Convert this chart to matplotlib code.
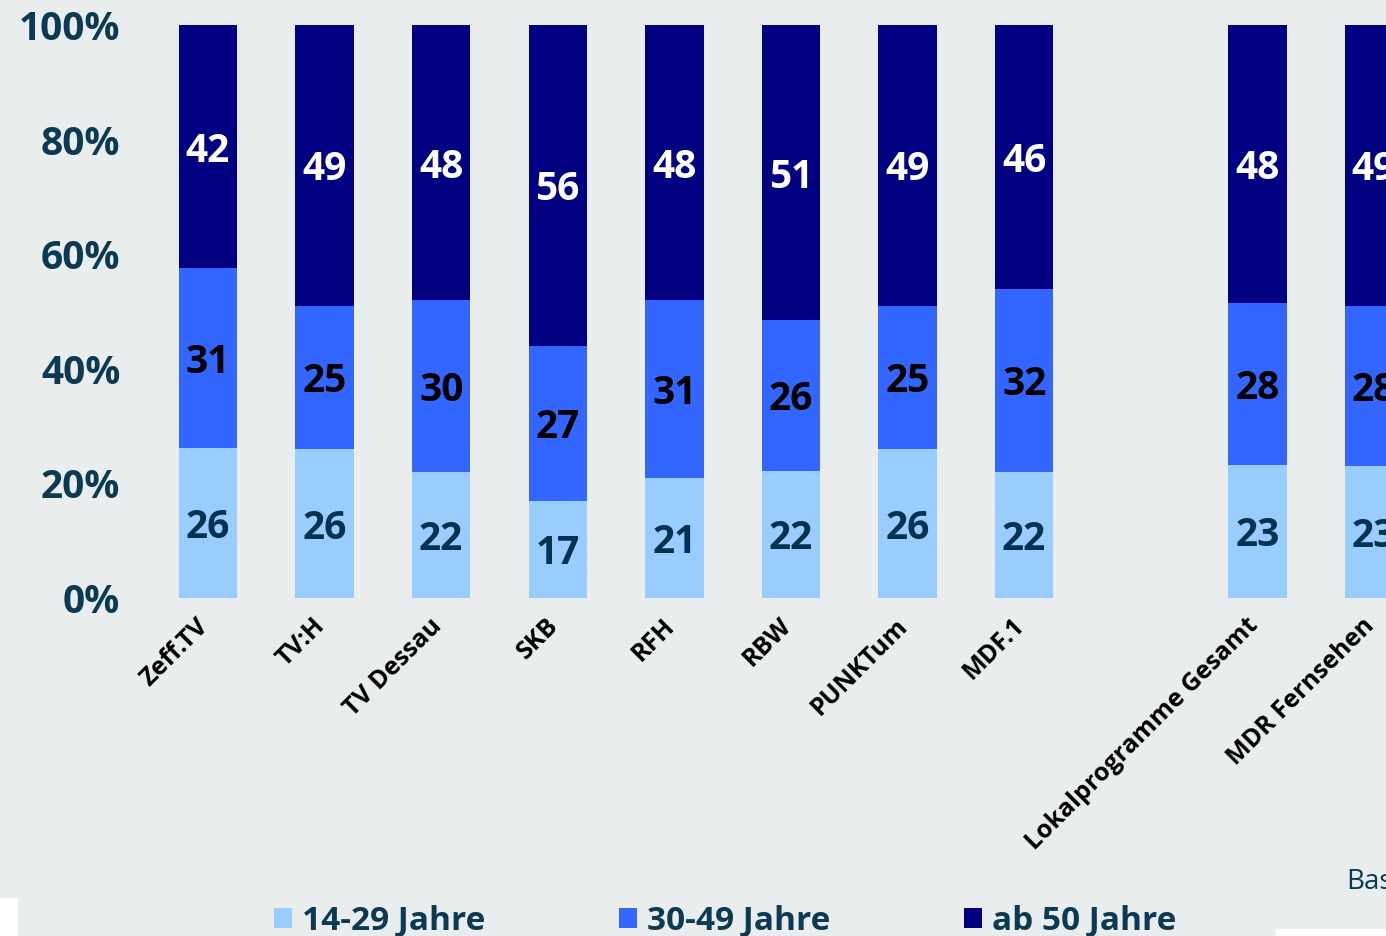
import numpy as np
import matplotlib.pyplot as plt
from matplotlib.patches import Rectangle
from matplotlib.transforms import ScaledTranslation

sender = ['Zeff.TV', 'TV:H', 'TV Dessau', 'SKB', 'RFH', 'RBW', 'PUNKTum',
          'MDF.1', 'Lokalprogramme Gesamt', 'MDR Fernsehen']
positions = [0, 1, 2, 3, 4, 5, 6, 7, 9, 10]
jung = [26, 26, 22, 17, 21, 22, 26, 22, 23, 23]
mittel = [31, 25, 30, 27, 31, 26, 25, 32, 28, 28]
alt = [42, 49, 48, 56, 48, 51, 49, 46, 48, 49]
serien = ['14-29 Jahre', '30-49 Jahre', 'ab 50 Jahre']
farben = ['#99ccff', '#3366ff', '#000080']
textfarben = ['#003350', 'black', 'white']
yticks = [0, 20, 40, 60, 80, 100]

bg = '#e9edee'
teal = '#0b3a52'
plt.rcParams['font.family'] = ['Open Sans', 'DejaVu Sans']

fig = plt.figure(figsize=(13.86, 9.36), dpi=100)
fig.patch.set_facecolor(bg)

W, H = 1386.0, 936.0
ax = fig.add_axes([130/W, (H-598)/H, (W-130)/W, 573/H])
ax.set_facecolor(bg)

daten = np.array([jung, mittel, alt], dtype=float)
summe = daten.sum(axis=0)
anteil = daten / summe * 100

unten = np.zeros(len(sender))
for werte, anz, farbe, tf, name in zip(anteil, daten, farben, textfarben, serien):
    ax.bar(positions, werte, bottom=unten, width=0.5, color=farbe, label=name)
    for x, b, w, v in zip(positions, unten, werte, anz):
        ax.text(x, b + w/2, '%d' % v, ha='center', va='center_baseline',
                color=tf, fontsize=28, fontweight='bold')
    unten += werte

ax.set_xlim((130-208)/116.6, (W-208)/116.6)
ax.set_ylim(0, 100)
for s in ax.spines.values():
    s.set_visible(False)

ax.set_yticks(yticks)
ax.set_yticklabels(['%d%%' % t for t in yticks], fontsize=28,
                   fontweight='bold', color=teal)
ax.tick_params(axis='y', length=0, pad=7)

ax.set_xticks(positions)
ax.set_xticklabels(sender, rotation=45, ha='right', rotation_mode='anchor',
                   fontsize=18, fontweight='bold', color='black')
ax.tick_params(axis='x', length=0, pad=11)
verschiebung = ScaledTranslation(-12/100, 0, fig.dpi_scale_trans)
for lab in ax.get_xticklabels():
    lab.set_transform(lab.get_transform() + verschiebung)

fig.legend(loc='center', bbox_to_anchor=(725/W, 1 - 921/H), ncol=3,
           frameon=False, handlelength=0.55, handleheight=0.55,
           handletextpad=0.3, columnspacing=4.0,
           prop={'weight': 'bold', 'size': 24})
for t in fig.legends[0].get_texts():
    t.set_color(teal)

fig.text(1346/W, 1 - 882/H, 'Basis:', fontsize=20, color=teal,
         ha='left', va='center')

fig.patches.append(Rectangle((0, 0), 18/W, 38/H, transform=fig.transFigure,
                             facecolor='white', edgecolor='none'))
fig.patches.append(Rectangle((1276/W, 0), 110/W, 7/H, transform=fig.transFigure,
                             facecolor='white', edgecolor='none'))

plt.savefig('out.png', dpi=100, facecolor=bg)
